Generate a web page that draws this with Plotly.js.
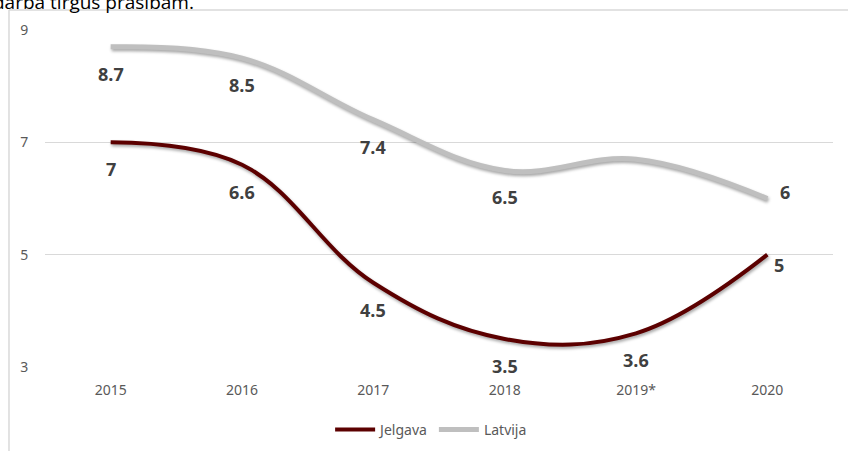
<!DOCTYPE html>
<html>
<head>
<meta charset="utf-8">
<script src="https://cdn.plot.ly/plotly-3.0.1.min.js"></script>
<style>
html, body { margin: 0; padding: 0; background: #fff; overflow: hidden; }
#chart { width: 848px; height: 451px; }
.scatterlayer .js-line { filter: drop-shadow(1px 2px 1.5px rgba(0,0,0,0.35)); }
</style>
</head>
<body>
<div id="chart"></div>
<script>
const categories = ['2015', '2016', '2017', '2018', '2019*', '2020'];
const jelgava = [7, 6.6, 4.5, 3.5, 3.6, 5];
const latvija = [8.7, 8.5, 7.4, 6.5, 6.7, 6];
const jelgavaLabels = ['7', '6.6', '4.5', '3.5', '3.6', '5'];
const latvijaLabels = ['8.7', '8.5', '7.4', '6.5', '', '6'];
const yTicks = [3, 5, 7, 9];
const headingText = 'darba tirgus prasībām.';

const labelFont = { family: 'Open Sans, sans-serif', size: 18, color: '#404040', weight: 'bold' };
const tickFont = { family: 'Noto Sans, Open Sans, sans-serif', size: 14, color: '#595959' };

function makeLabels(vals, labels, lastShift) {
  const out = [];
  vals.forEach((v, i) => {
    if (!labels[i]) return;
    const last = i === vals.length - 1;
    out.push({
      x: i, y: v, xref: 'x', yref: 'y',
      text: '<b>' + labels[i] + '</b>', showarrow: false,
      font: labelFont,
      xanchor: 'center', yanchor: 'middle',
      xshift: last ? lastShift[0] : 0,
      yshift: last ? lastShift[1] : -27
    });
  });
  return out;
}

const traces = [
  {
    x: categories, y: jelgava, name: 'Jelgava', type: 'scatter', mode: 'lines',
    line: { color: '#5c0000', width: 4, shape: 'spline', smoothing: 1.1 },
    hoverinfo: 'skip'
  },
  {
    x: categories, y: latvija, name: 'Latvija', type: 'scatter', mode: 'lines',
    line: { color: '#bfbfbf', width: 5, shape: 'spline', smoothing: 1.1 },
    hoverinfo: 'skip'
  }
];

const annotations = [
  ...makeLabels(jelgava, jelgavaLabels, [12, -10]),
  ...makeLabels(latvija, latvijaLabels, [18, 7]),
  {
    xref: 'paper', yref: 'paper', x: -0.068, y: 1.083,
    xanchor: 'left', yanchor: 'middle', showarrow: false,
    text: headingText,
    font: { family: 'Open Sans, sans-serif', size: 19, color: '#000' }
  }
];

const layout = {
  width: 848, height: 451,
  margin: { l: 45, r: 15, t: 30, b: 84 },
  paper_bgcolor: '#fff', plot_bgcolor: '#fff',
  showlegend: true,
  legend: {
    orientation: 'h', x: 0.49, xanchor: 'center',
    yref: 'container', y: 0.047, yanchor: 'middle',
    font: { family: 'Noto Sans, Open Sans, sans-serif', size: 14, color: '#595959' },
    itemwidth: 40, tracegroupgap: 0
  },
  xaxis: {
    type: 'category', range: [-0.5, 5.5],
    showgrid: false, zeroline: false, showline: false,
    ticks: 'outside', ticklen: 10, tickcolor: 'rgba(0,0,0,0)',
    tickfont: tickFont,
    fixedrange: true
  },
  yaxis: {
    range: [3, 9], tickvals: yTicks, ticktext: yTicks.map(String),
    showgrid: true, gridcolor: '#d9d9d9', gridwidth: 1,
    zeroline: false, showline: false,
    ticks: 'outside', ticklen: 13, tickcolor: 'rgba(0,0,0,0)',
    tickfont: tickFont,
    fixedrange: true
  },
  shapes: [
    { type: 'line', xref: 'paper', yref: 'paper', x0: -0.0457, x1: -0.0457, y0: 1.0593, y1: -0.26,
      line: { color: '#d9d9d9', width: 1.5 } },
    { type: 'line', xref: 'paper', yref: 'paper', x0: -0.0457, x1: 1.03, y0: 1.0593, y1: 1.0593,
      line: { color: '#d9d9d9', width: 1.5 } }
  ],
  annotations: annotations
};

Plotly.newPlot('chart', traces, layout, { displayModeBar: false, staticPlot: true });
</script>
</body>
</html>
